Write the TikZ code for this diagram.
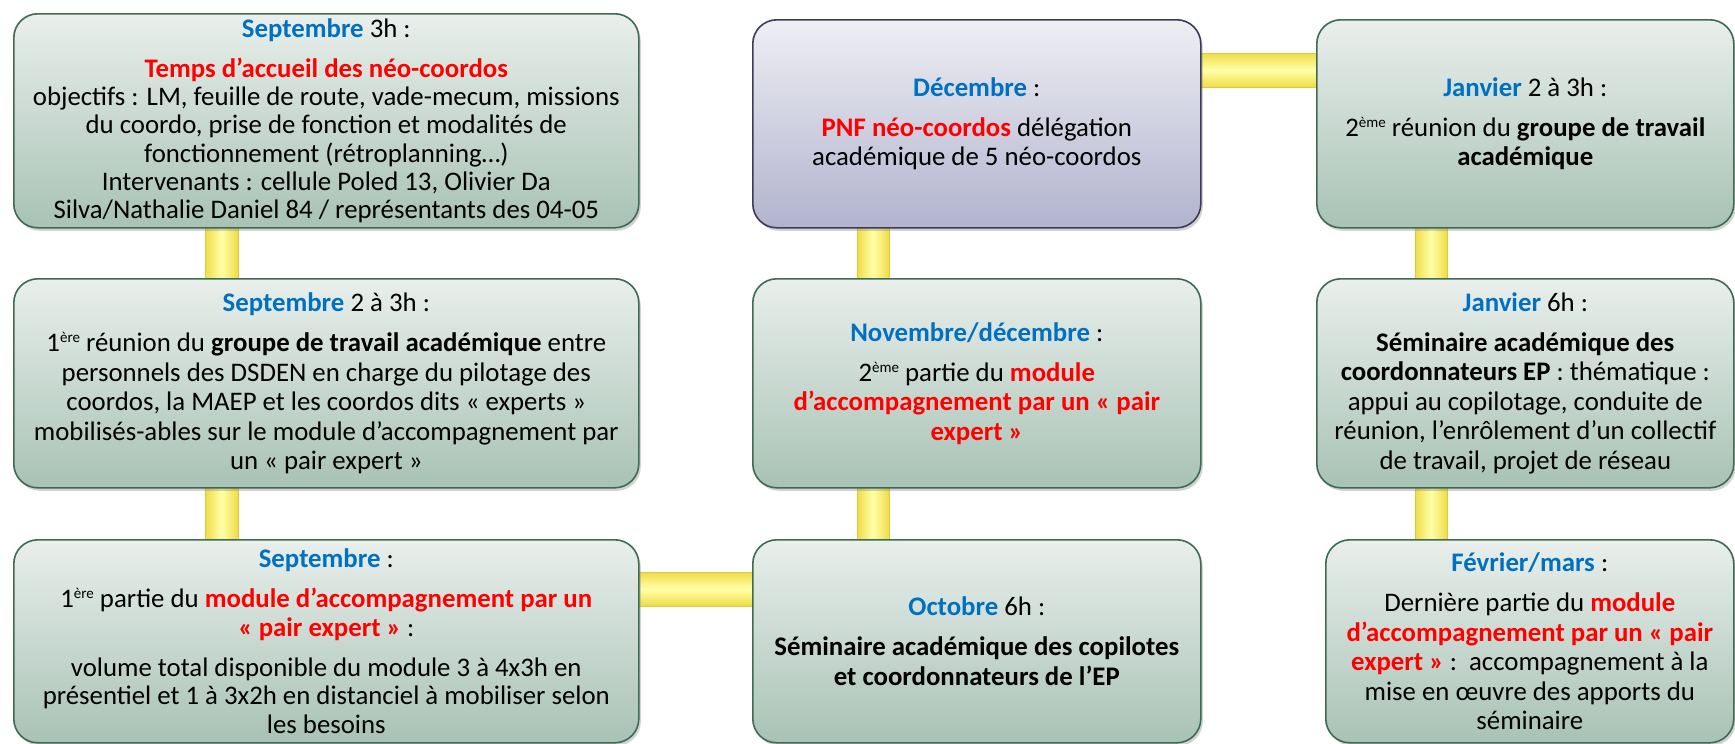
\documentclass[tikz,border=0pt]{standalone}
\usepackage{fontspec}
\setmainfont{Carlito}
\usetikzlibrary{calc,shadows}
\definecolor{sblue}{HTML}{0070C0}
\definecolor{sred}{HTML}{FF0000}
\definecolor{gtop}{HTML}{E9EFEC}
\definecolor{gbot}{HTML}{A8C2B5}
\definecolor{gline}{HTML}{3E6B54}
\definecolor{ptop}{HTML}{EEEEF4}
\definecolor{pbot}{HTML}{B2B3CE}
\definecolor{pline}{HTML}{3C3C58}
\definecolor{yedge}{HTML}{F0DC48}
\definecolor{ymid}{HTML}{FFFFA8}
\definecolor{yline}{HTML}{E2C83A}
\newcommand{\monthb}[1]{\textcolor{sblue}{\bfseries #1}}
\newcommand{\redb}[1]{\textcolor{sred}{\bfseries #1}}
\newcommand{\expo}[1]{\raisebox{9pt}{\fontsize{15}{15}\selectfont #1}}
\pgfdeclarelayer{back}
\pgfdeclarelayer{bars}
\pgfsetlayers{back,bars,main}
\tikzset{
  box/.style={rectangle, rounded corners=24pt, draw=gline, line width=1.6pt,
    top color=gtop, bottom color=gbot, anchor=north west, inner sep=0pt,
    align=center, font=\fontsize{26.8}{29.5}\selectfont,
    drop shadow={opacity=0.35, shadow xshift=2pt, shadow yshift=-3pt}},
  pbox/.style={box, draw=pline, top color=ptop, bottom color=pbot},
  vbar/.style={left color=yedge, right color=yedge, middle color=ymid, draw=yline, line width=0.8pt},
  hbar/.style={top color=yedge, bottom color=yedge, middle color=ymid, draw=yline, line width=0.8pt},
}
\begin{document}
\begin{tikzpicture}[x=1pt,y=-1pt]
\path[use as bounding box] (0,0) rectangle (1735,744);
\begin{pgfonlayer}{back}
\fill[white] (0,0) rectangle (1735,744);
\end{pgfonlayer}
\clip (0,0) rectangle (1735,744);

% left column
\node[box, font=\fontsize{26.8}{28.3}\selectfont, minimum width=625pt, minimum height=214pt] (TL) at (13,13) {%
\monthb{Septembre} 3h :\\[11.5pt]
\redb{Temps d’accueil des néo-coordos}\\
objectifs : LM, feuille de route, vade-mecum, missions\\
du coordo, prise de fonction et modalités de\\
fonctionnement (rétroplanning…)\\
Intervenants : cellule Poled 13, Olivier Da\\
Silva/Nathalie Daniel 84 / représentants des 04-05};

\node[box, minimum width=625pt, minimum height=209pt] (ML) at (13,278) {%
\monthb{Septembre} 2 à 3h :\\[10.5pt]
1\expo{ère} réunion du \textbf{groupe de travail académique} entre\\
personnels des DSDEN en charge du pilotage des\\
coordos, la MAEP et les coordos dits « experts »\\
mobilisés-ables sur le module d’accompagnement par\\
un « pair expert »};

\node[box, font=\fontsize{26.8}{28.8}\selectfont, minimum width=625pt, minimum height=203pt] (BL) at (13,539) {%
\monthb{Septembre} :\\[11pt]
1\expo{ère} partie du \redb{module d’accompagnement par un}\\
\redb{« pair expert »} :\\[11pt]
volume total disponible du module 3 à 4x3h en\\
présentiel et 1 à 3x2h en distanciel à mobiliser selon\\
les besoins};

% middle column
\node[pbox, minimum width=448pt, minimum height=208pt] (TM) at (752,19) {%
\monthb{Décembre} :\\[10.5pt]
\redb{PNF néo-coordos} délégation\\
académique de 5 néo-coordos};

\node[box, minimum width=448pt, minimum height=209pt] (MM) at (752,278) {%
\monthb{Novembre/décembre} :\\[10.5pt]
2\expo{ème} partie du \redb{module}\\
\redb{d’accompagnement par un « pair}\\
\redb{expert »}};

\node[box, minimum width=448pt, minimum height=203pt] (BM) at (752,539) {%
\monthb{Octobre} 6h :\\[10.5pt]
\textbf{Séminaire académique des copilotes}\\
\textbf{et coordonnateurs de l’EP}};

% right column
\node[box, minimum width=417pt, minimum height=208pt] (TR) at (1316,19) {%
\monthb{Janvier} 2 à 3h :\\[10.5pt]
2\expo{ème} réunion du \textbf{groupe de travail}\\
\textbf{académique}};

\node[box, minimum width=417pt, minimum height=209pt] (MR) at (1316,278) {%
\monthb{Janvier} 6h :\\[10.5pt]
\textbf{Séminaire académique des}\\
\textbf{coordonnateurs EP} : thématique :\\
appui au copilotage, conduite de\\
réunion, l’enrôlement d’un collectif\\
de travail, projet de réseau};

\node[box, minimum width=408pt, minimum height=203pt] (BR) at (1325,539) {%
\monthb{Février/mars} :\\[10.5pt]
Dernière partie du \redb{module}\\
\redb{d’accompagnement par un « pair}\\
\redb{expert »} :~~accompagnement à la\\
mise en œuvre des apports du\\
séminaire};

% connectors (yellow bars)
\begin{pgfonlayer}{bars}
\path[vbar] ($(TL.south west)+(192,-4)$) rectangle ($(ML.north west)+(225,4)$);
\path[vbar] ($(ML.south west)+(192,-4)$) rectangle ($(BL.north west)+(225,4)$);
\path[hbar] ($(BL.north east)+(-4,33)$) rectangle ($(BM.north west)+(4,67)$);
\path[vbar] ($(MM.south west)+(105,-4)$) rectangle ($(BM.north west)+(137,4)$);
\path[vbar] ($(TM.south west)+(105,-4)$) rectangle ($(MM.north west)+(137,4)$);
\path[hbar] ($(TM.north east)+(-4,34)$) rectangle ($(TR.north west)+(4,68)$);
\path[vbar] ($(TR.south west)+(99,-4)$) rectangle ($(MR.north west)+(131,4)$);
\path[vbar] ($(MR.south west)+(99,-4)$) rectangle ($(BR.north west)+(122,4)$);
\end{pgfonlayer}
\end{tikzpicture}
\end{document}
